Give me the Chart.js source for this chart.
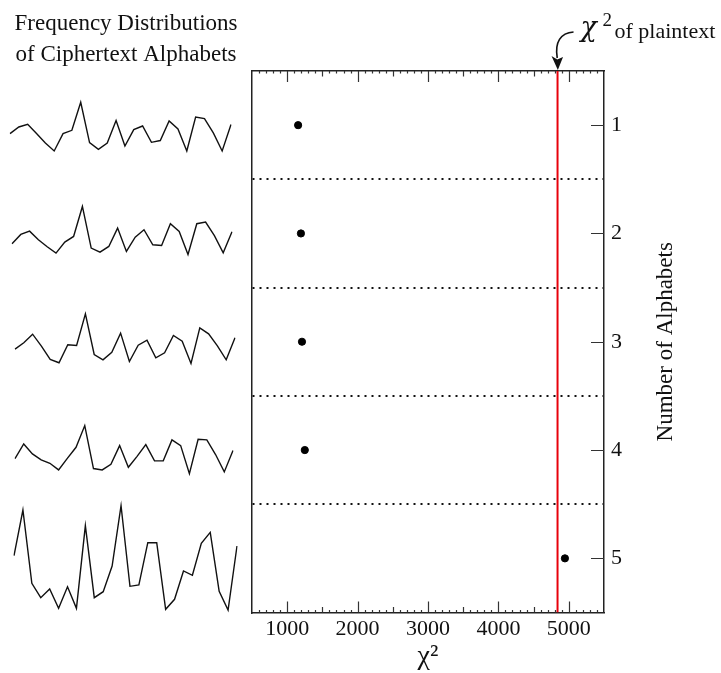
<!DOCTYPE html>
<html>
<head>
<meta charset="utf-8">
<script src="https://cdn.jsdelivr.net/npm/chart.js@4.4.0/dist/chart.umd.min.js"></script>
<style>
  html, body { margin: 0; padding: 0; background: #fff; }
  #wrap { position: relative; width: 721px; height: 673px; overflow: hidden; }
  #wrap canvas { position: absolute; }
</style>
</head>
<body>
<div id="wrap">
  <canvas id="main" width="721" height="673" style="left:0;top:0"></canvas>
</div>
<script>
// letter frequencies (%) of the ciphertext, split into 1..5 alphabets
const letters = 'ABCDEFGHIJKLMNOPQRSTUVWXYZ'.split('');
const freqAlphabets1 = [3.80, 4.63, 4.96, 3.80, 2.63, 1.63, 3.80, 4.21, 7.71, 2.68, 1.84, 2.63, 5.43,
                        2.25, 4.30, 4.75, 2.71, 2.93, 5.38, 4.38, 1.63, 5.88, 5.68, 3.88, 1.63, 4.93];
const freqAlphabets2 = [3.16, 4.32, 4.73, 3.66, 2.78, 1.98, 3.36, 4.07, 7.82, 2.61, 2.11, 2.82, 5.11,
                        2.19, 3.98, 4.91, 3.03, 2.94, 5.66, 4.69, 1.82, 5.66, 5.86, 4.16, 2.03, 4.66];
const freqAlphabets3 = [3.48, 4.28, 5.35, 3.85, 2.19, 1.78, 4.03, 3.94, 7.90, 2.81, 2.15, 3.10, 5.48,
                        1.94, 3.98, 4.60, 2.40, 3.03, 5.19, 4.48, 1.69, 6.15, 5.40, 3.90, 2.15, 4.90];
const freqAlphabets4 = [3.43, 5.26, 4.01, 3.26, 2.84, 2.01, 3.46, 4.84, 7.55, 2.18, 2.01, 2.71, 5.05,
                        2.34, 3.71, 5.18, 3.14, 3.14, 5.76, 5.05, 1.55, 5.84, 5.76, 3.93, 1.76, 4.43];
const freqAlphabets5 = [7.79, 13.50, 4.34, 2.54, 3.63, 1.21, 3.91, 1.21, 11.54, 2.54, 3.29, 6.50, 14.04,
                        3.96, 4.13, 9.41, 9.41, 1.09, 2.34, 5.88, 5.34, 9.34, 10.71, 3.34, 1.00, 9.00];

// chi-square per number of alphabets
const alphabetCounts = [1, 2, 3, 4, 5];
const cipherChi = [1155, 1195, 1210, 1250, 4945];
const plainChi = 4840;

const xTicks = [1000, 2000, 3000, 4000, 5000];
const rowDividers = [1.5, 2.5, 3.5, 4.5];

const serif = '"Liberation Serif", "Times New Roman", serif';
const wrap = document.getElementById('wrap');

// ---- small frequency plots on the left ----
const sparkRows = [freqAlphabets1, freqAlphabets2, freqAlphabets3, freqAlphabets4, freqAlphabets5];
const sparkBoxes = [
  { x0: 10, x1: 231, base: 164 },
  { x0: 12, x1: 232, base: 269 },
  { x0: 15, x1: 235, base: 377 },
  { x0: 15, x1: 233, base: 486 },
  { x0: 14, x1: 237, base: 618 }
];
const PX_PER_PCT = 8, PCT_MAX = 15, PAD = 2;

sparkRows.forEach((vals, i) => {
  const b = sparkBoxes[i];
  const c = document.createElement('canvas');
  c.width = b.x1 - b.x0 + 2 * PAD;
  c.height = PCT_MAX * PX_PER_PCT + 2 * PAD;
  c.style.left = (b.x0 - PAD) + 'px';
  c.style.top = (b.base - PCT_MAX * PX_PER_PCT - PAD) + 'px';
  wrap.appendChild(c);
  new Chart(c, {
    type: 'line',
    data: {
      labels: letters,
      datasets: [{ data: vals, borderColor: '#111', borderWidth: 1.4, pointRadius: 0, tension: 0 }]
    },
    options: {
      responsive: false, animation: false, events: [],
      layout: { padding: PAD },
      plugins: { legend: { display: false }, tooltip: { enabled: false } },
      scales: {
        x: { display: false, offset: false },
        y: { display: false, min: 0, max: PCT_MAX }
      }
    }
  });
});

// ---- frame ticks, side texts and the plaintext arrow ----
const decorations = {
  id: 'decorations',
  afterDraw(chart) {
    const { ctx, chartArea: a } = chart;
    const xs = chart.scales.x, ys = chart.scales.y;
    ctx.save();
    ctx.strokeStyle = '#333';
    ctx.lineWidth = 1.2;
    ctx.beginPath();
    for (let v = xs.min + 100; v < xs.max; v += 100) {
      const px = Math.round(xs.getPixelForValue(v)) + 0.5;
      const len = v % 1000 === 0 ? 11 : (v % 500 === 0 ? 5.5 : 2.5);
      ctx.moveTo(px, a.bottom); ctx.lineTo(px, a.bottom - len);
      ctx.moveTo(px, a.top); ctx.lineTo(px, a.top + len);
    }
    alphabetCounts.forEach(n => {
      const py = Math.round(ys.getPixelForValue(n)) + 0.5;
      ctx.moveTo(a.right, py); ctx.lineTo(a.right - 13, py);
    });
    ctx.stroke();

    ctx.fillStyle = '#111';
    ctx.font = '23px ' + serif;
    ctx.textAlign = 'center';
    ctx.textBaseline = 'alphabetic';
    ctx.fillText('Frequency Distributions', 126, 30);
    ctx.fillText('of Ciphertext Alphabets', 126, 61);

    ctx.save();
    ctx.translate(666, (a.top + a.bottom) / 2);
    ctx.rotate(-Math.PI / 2);
    ctx.textBaseline = 'middle';
    ctx.fillText('Number of Alphabets', 0, 0);
    ctx.restore();

    // label and curved arrow down to the plaintext line
    const tipX = xs.getPixelForValue(plainChi);
    const tipY = a.top - 1;
    ctx.textAlign = 'left';
    ctx.font = 'italic 27px "DejaVu Serif", ' + serif;
    ctx.fillText('χ', tipX + 23, 36);
    ctx.font = '19px ' + serif;
    ctx.fillText('2', tipX + 45, 26);
    ctx.font = '22px ' + serif;
    ctx.fillText('of plaintext', tipX + 57, 37.5);

    ctx.strokeStyle = '#111';
    ctx.lineWidth = 1.6;
    ctx.beginPath();
    ctx.moveTo(tipX + 16, 32);
    ctx.bezierCurveTo(tipX + 3, 33, tipX - 3, 42, tipX - 0.3, tipY - 12);
    ctx.stroke();
    ctx.beginPath();
    ctx.moveTo(tipX + 0.3, tipY);
    ctx.lineTo(tipX - 6, tipY - 14);
    ctx.lineTo(tipX - 0.3, tipY - 10.5);
    ctx.lineTo(tipX + 5.5, tipY - 13);
    ctx.closePath();
    ctx.fill();
    ctx.restore();
  }
};

const frameBorder = { display: true, color: '#222', width: 1.5 };

new Chart(document.getElementById('main'), {
  type: 'scatter',
  data: {
    datasets: [
      {
        label: 'ciphertext',
        data: alphabetCounts.map((n, i) => ({ x: cipherChi[i], y: n })),
        backgroundColor: '#000', borderColor: '#000', pointRadius: 3.6
      },
      {
        label: 'plaintext',
        data: [{ x: plainChi, y: 0.5 }, { x: plainChi, y: 5.5 }],
        showLine: true, borderColor: '#e8000b', borderWidth: 2, pointRadius: 0
      }
    ]
  },
  options: {
    responsive: false, animation: false, devicePixelRatio: 1, events: [],
    layout: { padding: 0 },
    plugins: { legend: { display: false }, tooltip: { enabled: false } },
    scales: {
      x: {
        type: 'linear', position: 'bottom', min: 500, max: 5500,
        afterBuildTicks: s => { s.ticks = xTicks.map(v => ({ value: v })); },
        afterFit: s => { s.height = 60.5; },
        grid: { drawOnChartArea: false, drawTicks: false },
        border: frameBorder,
        ticks: {
          color: '#111', font: { family: serif, size: 22 }, padding: 4,
          maxRotation: 0, autoSkip: false, callback: v => String(v)
        },
        title: {
          display: true, text: 'χ²', color: '#111',
          font: { family: serif, size: 28 }, padding: { top: 0, bottom: 0 }
        }
      },
      xTop: {
        type: 'linear', position: 'top', min: 500, max: 5500,
        afterFit: s => { s.height = 71; },
        grid: { drawOnChartArea: false, drawTicks: false },
        border: frameBorder,
        ticks: { display: false }
      },
      yLeft: {
        type: 'linear', position: 'left', min: 0.5, max: 5.5, reverse: true,
        afterBuildTicks: s => { s.ticks = rowDividers.map(v => ({ value: v })); },
        afterFit: s => { s.width = 252; },
        grid: { color: '#111', lineWidth: 2, drawTicks: false },
        border: { display: true, color: '#222', width: 1.5, dash: [2, 5] },
        ticks: { display: false }
      },
      y: {
        type: 'linear', position: 'right', min: 0.5, max: 5.5, reverse: true,
        afterBuildTicks: s => { s.ticks = alphabetCounts.map(v => ({ value: v })); },
        afterFit: s => { s.width = 117; },
        grid: { drawOnChartArea: false, drawTicks: false },
        border: frameBorder,
        ticks: { color: '#111', font: { family: serif, size: 22 }, padding: 7 }
      }
    }
  },
  plugins: [decorations]
});
</script>
</body>
</html>
